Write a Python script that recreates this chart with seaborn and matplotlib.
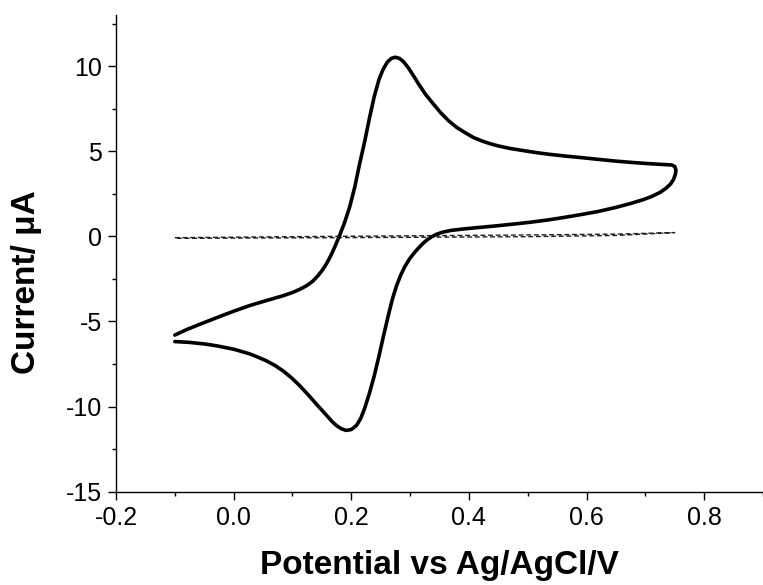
import pandas as pd
import matplotlib
matplotlib.use("Agg")
import matplotlib.pyplot as plt
import seaborn as sns
from matplotlib.ticker import MultipleLocator

# cyclic voltammogram, forward scan then reverse scan
cv_potential = [
    -0.100, -0.080, -0.060, -0.040, -0.020, 0.000, 0.027, 0.055, 0.084, 0.100,
    0.112, 0.124, 0.134, 0.143, 0.151, 0.158, 0.165, 0.172, 0.179, 0.188,
    0.197, 0.206, 0.214, 0.223, 0.231, 0.239, 0.247, 0.254, 0.261, 0.268,
    0.275, 0.282, 0.289, 0.297, 0.306, 0.315, 0.326, 0.338, 0.352, 0.366,
    0.380, 0.394, 0.408, 0.423, 0.437, 0.451, 0.470, 0.490, 0.512, 0.536,
    0.565, 0.592, 0.620, 0.649, 0.677, 0.705, 0.730, 0.745,
    0.750, 0.752, 0.751, 0.748, 0.743, 0.735, 0.725, 0.710, 0.695, 0.675,
    0.650, 0.620, 0.586, 0.560, 0.536, 0.505, 0.473, 0.445, 0.417, 0.390,
    0.370, 0.355, 0.345, 0.337, 0.330, 0.323, 0.315, 0.307, 0.299, 0.291,
    0.284, 0.277, 0.270, 0.264, 0.255, 0.247, 0.239, 0.231, 0.223, 0.216,
    0.209, 0.200, 0.191, 0.183, 0.175, 0.168, 0.155, 0.140, 0.126, 0.112,
    0.098, 0.084, 0.070, 0.055, 0.040, 0.027, 0.000, -0.029, -0.050, -0.075,
    -0.100,
]
cv_current = [
    -5.80, -5.48, -5.20, -4.93, -4.66, -4.40, -4.07, -3.78, -3.49, -3.30,
    -3.12, -2.90, -2.65, -2.33, -1.98, -1.60, -1.15, -0.62, -0.05, 0.75,
    1.69, 2.90, 4.23, 5.60, 6.96, 8.20, 9.20, 9.80, 10.22, 10.45,
    10.52, 10.45, 10.25, 9.90, 9.42, 8.92, 8.35, 7.84, 7.26, 6.77,
    6.38, 6.08, 5.80, 5.59, 5.43, 5.30, 5.16, 5.05, 4.93, 4.82,
    4.71, 4.62, 4.52, 4.42, 4.34, 4.27, 4.22, 4.19,
    4.10, 3.90, 3.64, 3.35, 3.08, 2.82, 2.58, 2.33, 2.14, 1.93,
    1.70, 1.46, 1.25, 1.10, 0.97, 0.83, 0.71, 0.61, 0.52, 0.43,
    0.35, 0.24, 0.12, -0.02, -0.18, -0.38, -0.66, -0.97, -1.33, -1.78,
    -2.28, -2.90, -3.68, -4.50, -5.82, -7.05, -8.20, -9.20, -10.08, -10.70,
    -11.10, -11.35, -11.40, -11.30, -11.12, -10.90, -10.40, -9.83, -9.28, -8.76,
    -8.30, -7.90, -7.58, -7.30, -7.08, -6.90, -6.63, -6.43, -6.32, -6.23,
    -6.18,
]

# background (blank) scan, dashed
blank_potential = [-0.10, 0.10, 0.30, 0.50, 0.65, 0.75, 0.65, 0.50, 0.30, 0.10, -0.10]
blank_current = [-0.08, -0.02, 0.03, 0.08, 0.13, 0.22, 0.05, -0.02, -0.06, -0.09, -0.12]

cv = pd.DataFrame({"potential": cv_potential, "current": cv_current})
blank = pd.DataFrame({"potential": blank_potential, "current": blank_current})

sns.set_style("ticks")
plt.rcParams["font.family"] = ["Liberation Sans", "DejaVu Sans"]
plt.rcParams["text.color"] = "black"
plt.rcParams["axes.labelcolor"] = "black"

fig = plt.figure(figsize=(7.63, 5.85), dpi=100)
ax = fig.add_axes([116 / 763, 93.3 / 585, 647 / 763, 476.7 / 585])

sns.lineplot(data=blank, x="potential", y="current", sort=False, estimator=None,
             color="#222222", lw=1.0, linestyle=(0, (3.5, 2)), ax=ax)
sns.lineplot(data=cv, x="potential", y="current", sort=False, estimator=None,
             color="black", lw=2.6, ax=ax)
for ln in ax.lines:
    ln.set_solid_joinstyle("round")
    ln.set_solid_capstyle("round")

ax.set_xlim(-0.2, 0.9)
ax.set_ylim(-15, 13)
ax.xaxis.set_minor_locator(MultipleLocator(0.1))
ax.yaxis.set_minor_locator(MultipleLocator(2.5))
ax.set_xticks([-0.2, 0.0, 0.2, 0.4, 0.6, 0.8])
ax.set_xticklabels(["-0.2", "0.0", "0.2", "0.4", "0.6", "0.8"])
ax.set_yticks([-15, -10, -5, 0, 5, 10])
ax.set_yticklabels(["-15", "-10", "-5", "0", "5", "10"])

sns.despine(ax=ax)
for s in ["left", "bottom"]:
    ax.spines[s].set_linewidth(1.0)
    ax.spines[s].set_color("black")
ax.tick_params(which="major", direction="out", length=6, width=1.0,
               labelsize=18, colors="black", labelcolor="black", pad=4)
ax.tick_params(which="minor", direction="out", length=3, width=1.0, colors="black")

ax.set_xlabel("Potential vs Ag/AgCl/V", fontsize=24, fontweight="bold", color="black")
ax.set_ylabel("Current/ μA", fontsize=24, fontweight="bold", color="black")
ax.xaxis.set_label_coords(0.5, -0.122)
ax.yaxis.set_label_coords(-0.114, 0.44)

fig.savefig("out.png", dpi=100, facecolor="white")
